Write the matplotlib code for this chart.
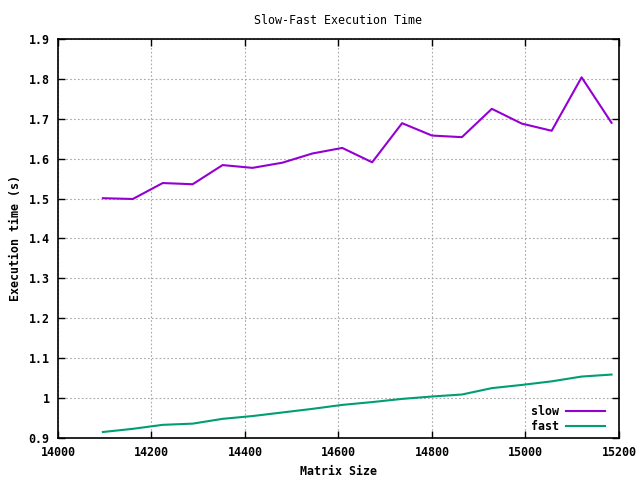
import numpy as np
import matplotlib
matplotlib.use('Agg')
import matplotlib.pyplot as plt

# matrix sizes (step 64)
tamanos = [14096, 14160, 14224, 14288, 14352, 14416, 14480, 14544, 14608,
           14672, 14736, 14800, 14864, 14928, 14992, 15056, 15120, 15184]
tiempo_slow = [1.501, 1.499, 1.539, 1.536, 1.584, 1.577, 1.590, 1.613, 1.627,
               1.591, 1.689, 1.658, 1.654, 1.725, 1.688, 1.670, 1.804, 1.690]
tiempo_fast = [0.915, 0.923, 0.933, 0.936, 0.948, 0.955, 0.964, 0.973, 0.983,
               0.990, 0.998, 1.004, 1.009, 1.025, 1.033, 1.042, 1.054, 1.059]

plt.rcParams['font.family'] = 'DejaVu Sans Mono'
plt.rcParams['font.size'] = 8.4

fig = plt.figure(figsize=(6.4, 4.8), dpi=100)
ax = fig.add_axes([58 / 640, 1 - 438 / 480, 561 / 640, 399 / 480])

ax.plot(tamanos, tiempo_slow, color='#9400D3', lw=1.5, label='slow')
ax.plot(tamanos, tiempo_fast, color='#009E73', lw=1.5, label='fast')

ax.set_xlim(14000, 15200)
ax.set_ylim(0.9, 1.9)
ax.set_xticks(np.arange(14000, 15201, 200))
ax.set_yticks(np.arange(0.9, 1.91, 0.1))
ax.set_yticklabels(['0.9', '1', '1.1', '1.2', '1.3', '1.4', '1.5', '1.6', '1.7', '1.8', '1.9'])
for lbl in ax.get_xticklabels() + ax.get_yticklabels():
    lbl.set_fontweight('bold')

ax.tick_params(direction='in', top=True, right=True, length=5, width=1, pad=6)
ax.grid(True, color='#a8a8a8', linestyle=(0, (1.5, 2)), linewidth=0.8)
for s in ax.spines.values():
    s.set_linewidth(1.2)

ax.set_title('Slow-Fast Execution Time', fontsize=8.4, pad=11)
ax.set_xlabel('Matrix Size', fontweight='bold', labelpad=4)
ax.set_ylabel('Execution time (s)', fontweight='bold', labelpad=5)

leg = ax.legend(loc='lower right', bbox_to_anchor=(0.975, 0.012), frameon=False,
                markerfirst=False, handlelength=3.3, handletextpad=0.6,
                labelspacing=0.15, borderpad=0, borderaxespad=0,
                prop={'weight': 'bold', 'size': 8.4})

fig.savefig('out.png', dpi=100)
